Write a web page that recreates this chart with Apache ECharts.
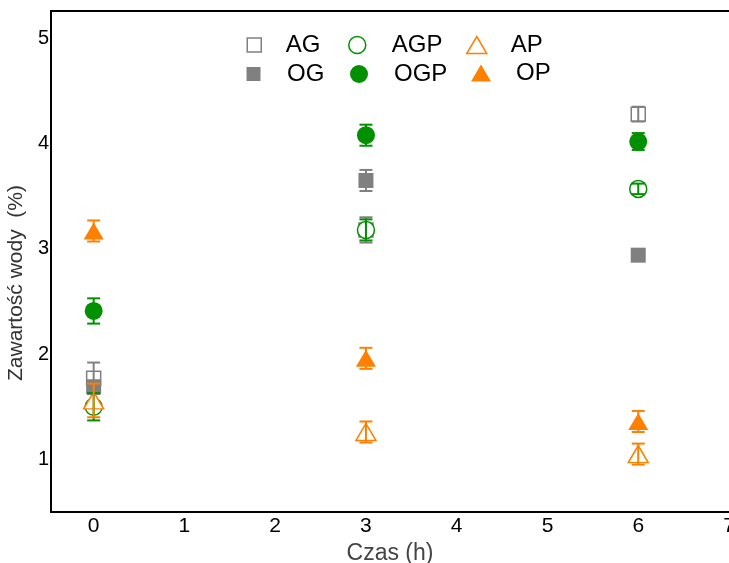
<!DOCTYPE html>
<html><head><meta charset="utf-8">
<script src="https://cdn.jsdelivr.net/npm/echarts@6/dist/echarts.min.js"></script>
<style>html,body{margin:0;padding:0;background:#fff}#c{width:729px;height:563px}</style>
</head><body><div id="c"></div>
<script>
// Data
const times = [0, 3, 6];
const AG = [1.77, 3.18, 4.28];
const errAG = [0.15, 0.12, 0.07];
const OG = [1.69, 3.65, 2.94];
const errOG = [0.05, 0.10, 0.02];
const AGP = [1.50, 3.18, 3.57];
const errAGP = [0.13, 0.10, 0.05];
const OGP = [2.41, 4.08, 4.02];
const errOGP = [0.12, 0.10, 0.08];
const AP = [1.56, 1.26, 1.05];
const errAP = [0.16, 0.10, 0.10];
const OP = [3.17, 1.96, 1.36];
const errOP = [0.10, 0.10, 0.10];
const xTicks = [0, 1, 2, 3, 4, 5, 6, 7];
const yTicks = [1, 2, 3, 4, 5];

const GRAY = '#808080', GREEN = '#009000', ORANGE = '#ff8000';

function pts(v) { return times.map((t, i) => [t, v[i]]); }
function errs(v, e) { return times.map((t, i) => [t, v[i] - e[i], v[i] + e[i]]); }

function errSeries(name, v, e, color) {
  return {
    type: 'custom', name: name + '_err', z: 3, silent: true,
    data: errs(v, e),
    encode: { x: 0, y: [1, 2] },
    renderItem: function (params, api) {
      const lo = api.coord([api.value(0), api.value(1)]);
      const hi = api.coord([api.value(0), api.value(2)]);
      const hw = 6.5;
      const st = { stroke: color, lineWidth: 2 };
      return {
        type: 'group', children: [
          { type: 'line', shape: { x1: lo[0], y1: lo[1], x2: hi[0], y2: hi[1] }, style: st },
          { type: 'line', shape: { x1: lo[0] - hw, y1: lo[1], x2: lo[0] + hw, y2: lo[1] }, style: st },
          { type: 'line', shape: { x1: hi[0] - hw, y1: hi[1], x2: hi[0] + hw, y2: hi[1] }, style: st }
        ]
      };
    }
  };
}
function scat(name, v, symbol, size, fill, color, bw) {
  return {
    type: 'scatter', name: name, z: 2, data: pts(v), symbol: symbol, symbolSize: size,
    itemStyle: { color: fill, borderColor: color, borderWidth: bw, opacity: 1 }
  };
}

const legendDefs = [
  ['AG', 'rect', 253.5, 46, 14, 14, 285, '#fff', GRAY, 1.5],
  ['AGP', 'circle', 356.5, 46, 17, 17, 391, '#fff', GREEN, 1.5],
  ['AP', 'triangle', 476, 46, 20, 17, 510, '#fff', ORANGE, 1.5],
  ['OG', 'rect', 253.5, 75, 14, 14, 287, GRAY, GRAY, 0],
  ['OGP', 'circle', 359, 75, 18, 18, 394, GREEN, GREEN, 0],
  ['OP', 'triangle', 481, 74, 20, 17, 516, ORANGE, ORANGE, 0]
];
const legends = legendDefs.map(d => ({
  left: d[2] - d[4] / 2, top: d[3] - 13, padding: 0,
  itemWidth: d[4], itemHeight: d[5], selectedMode: false,
  textStyle: { fontSize: 24, color: '#000', fontFamily: 'Liberation Sans, Arial',
    padding: [0, 0, 0, d[6] - (d[2] + d[4] / 2 + 5)] },
  data: [{ name: d[0], icon: d[1], itemStyle: { color: d[7], borderColor: d[8], borderWidth: d[9] } }]
}));

const chart = echarts.init(document.getElementById('c'), null, { renderer: 'canvas' });
chart.setOption({
  animation: false,
  backgroundColor: '#fff',
  grid: { left: 51, right: -3, top: 11, bottom: 51, show: true, borderColor: '#000', borderWidth: 2,
    backgroundColor: 'transparent', containLabel: false, outerBoundsMode: 'none' },
  legend: legends,
  xAxis: {
    type: 'value', min: -0.47, max: 7.033, splitNumber: 8,
    axisLine: { show: false }, axisTick: { show: false }, splitLine: { show: false },
    axisLabel: { margin: 4, fontSize: 21, color: '#000', fontFamily: 'Liberation Sans Narrow, Liberation Sans, Arial',
      formatter: v => xTicks.indexOf(v) >= 0 ? String(v) : '' , showMinLabel: true, showMaxLabel: true },
    name: 'Czas (h)', nameLocation: 'middle', nameGap: 28,
    nameTextStyle: { fontSize: 23, color: '#444', fontFamily: 'Liberation Sans Narrow, Liberation Sans, Arial', padding: [0, 3, 0, 0] }
  },
  yAxis: {
    type: 'value', min: 0.5, max: 5.26, splitNumber: 5,
    axisLine: { show: false }, axisTick: { show: false }, splitLine: { show: false },
    axisLabel: { margin: 2, fontSize: 20, color: '#000', fontFamily: 'Liberation Sans, Arial',
      formatter: v => yTicks.indexOf(v) >= 0 ? String(v) : '' },
    name: 'Zawartość wody  (%)', nameLocation: 'middle', nameGap: 23,
    nameTextStyle: { fontSize: 21, color: '#333', fontFamily: 'Liberation Sans, Arial', padding: [0, 43, 0, 0] }
  },
  series: [
    scat('AG', AG, 'rect', 14, '#fff', GRAY, 1.5),
    scat('AGP', AGP, 'circle', 17, '#fff', GREEN, 1.5),
    scat('AP', AP, 'triangle', [20, 17], '#fff', ORANGE, 1.5),
    scat('OG', OG, 'rect', 15, GRAY, GRAY, 0),
    scat('OGP', OGP, 'circle', 18, GREEN, GREEN, 0),
    scat('OP', OP, 'triangle', [20, 17], ORANGE, ORANGE, 0),
    errSeries('AG', AG, errAG, GRAY),
    errSeries('OG', OG, errOG, GRAY),
    errSeries('AGP', AGP, errAGP, GREEN),
    errSeries('OGP', OGP, errOGP, GREEN),
    errSeries('AP', AP, errAP, ORANGE),
    errSeries('OP', OP, errOP, ORANGE)
  ]
});
</script></body></html>
